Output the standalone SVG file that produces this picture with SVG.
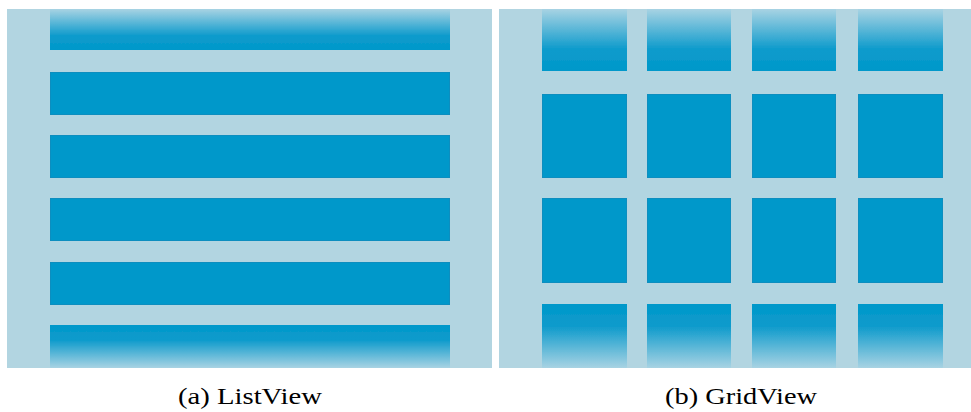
<svg xmlns="http://www.w3.org/2000/svg" width="971" height="412" viewBox="0 0 971 412">
<defs>
<linearGradient id="fadeTop" x1="0" y1="0" x2="0" y2="1">
<stop offset="0" stop-color="#a8d3e3"/>
<stop offset="0.65" stop-color="#0e9bcc"/>
<stop offset="1" stop-color="#0098ca"/>
</linearGradient>
<linearGradient id="fadeBot" x1="0" y1="0" x2="0" y2="1">
<stop offset="0" stop-color="#0098ca"/>
<stop offset="0.35" stop-color="#0e9bcc"/>
<stop offset="1" stop-color="#a8d3e3"/>
</linearGradient>
<filter id="soft" x="-5%" y="-5%" width="110%" height="110%"><feGaussianBlur stdDeviation="0.6"/></filter>
</defs>
<style>
.panel{fill:#b2d5e1}
.bar{fill:#0098ca;stroke:#0a8ebf;stroke-width:1}
.ft{fill:url(#fadeTop)}
.fb{fill:url(#fadeBot)}
.cap{font-family:"Liberation Serif","Times New Roman",serif;font-size:22.7px;fill:#000}
</style>
<rect width="971" height="412" fill="#ffffff"/>
<g id="listview">
<rect class="panel" x="7" y="9" width="485" height="359"/>
<g filter="url(#soft)">
<rect class="ft" x="50" y="9" width="400" height="41"/>
<rect class="bar" x="50.5" y="72.5" width="399" height="42"/>
<rect class="bar" x="50.5" y="135.5" width="399" height="42"/>
<rect class="bar" x="50.5" y="198.5" width="399" height="42"/>
<rect class="bar" x="50.5" y="262.5" width="399" height="42"/>
<rect class="fb" x="50" y="325" width="400" height="43"/>
</g>
</g>
<g id="gridview">
<rect class="panel" x="499" y="9" width="472" height="359"/>
<g filter="url(#soft)">
<rect class="ft" x="542" y="9" width="85" height="62"/>
<rect class="ft" x="647" y="9" width="84" height="62"/>
<rect class="ft" x="752" y="9" width="84" height="62"/>
<rect class="ft" x="858" y="9" width="85" height="62"/>
<rect class="bar" x="542.5" y="94.5" width="84" height="83"/>
<rect class="bar" x="647.5" y="94.5" width="83" height="83"/>
<rect class="bar" x="752.5" y="94.5" width="83" height="83"/>
<rect class="bar" x="858.5" y="94.5" width="84" height="83"/>
<rect class="bar" x="542.5" y="198.5" width="84" height="84"/>
<rect class="bar" x="647.5" y="198.5" width="83" height="84"/>
<rect class="bar" x="752.5" y="198.5" width="83" height="84"/>
<rect class="bar" x="858.5" y="198.5" width="84" height="84"/>
<rect class="fb" x="542" y="304" width="85" height="64"/>
<rect class="fb" x="647" y="304" width="84" height="64"/>
<rect class="fb" x="752" y="304" width="84" height="64"/>
<rect class="fb" x="858" y="304" width="85" height="64"/>
</g>
</g>
<text class="cap" x="178" y="404" textLength="144" lengthAdjust="spacingAndGlyphs">(a) ListView</text>
<text class="cap" x="665" y="404" textLength="152" lengthAdjust="spacingAndGlyphs">(b) GridView</text>
</svg>
